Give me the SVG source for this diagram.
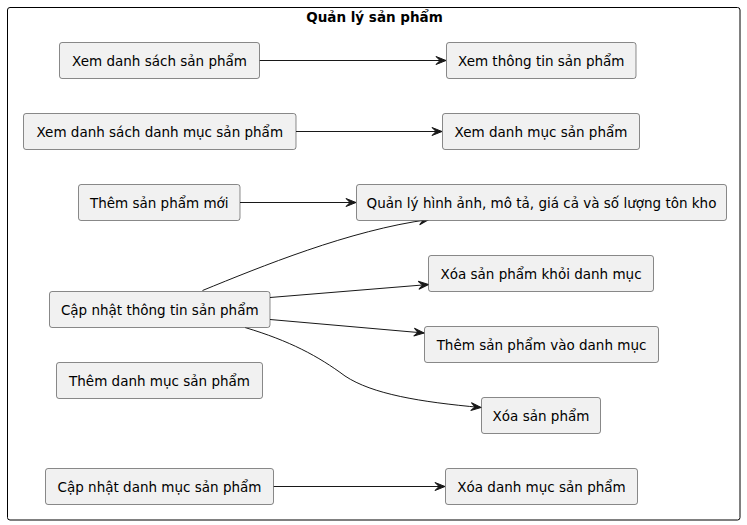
<svg xmlns="http://www.w3.org/2000/svg" width="747" height="525" viewBox="0 0 747 525">
<style>
.n rect{fill:#F1F1F1;stroke:#181818;stroke-width:0.5}
.n text{font-family:"DejaVu Sans",sans-serif;font-size:13.5px;fill:#000;text-anchor:middle}
.e path{fill:none;stroke:#181818;stroke-width:1;marker-end:url(#ah)}
.t{font-family:"DejaVu Sans",sans-serif;font-size:13.5px;font-weight:bold;text-anchor:middle}
</style>
<defs>
<marker id="ah" markerUnits="userSpaceOnUse" markerWidth="12" markerHeight="10" viewBox="-11 -5 12 10" refX="0" refY="0" orient="auto">
<path d="M0,0 L-10,-4 L-6,0 L-10,4 Z" fill="#181818" stroke="#181818" stroke-width="1"/>
</marker>
</defs>
<rect x="7.5" y="7.5" width="732.5" height="512.5" rx="2.5" fill="none" stroke="#000" stroke-width="1"/>
<text class="t" x="374.5" y="22">Quản lý sản phẩm</text>
<g class="e" id="connectors">
<path d="M259.5,60.5 L446,60.5"/>
<path d="M296,131.5 L442,131.5"/>
<path d="M240,202.5 L356,202.5"/>
<path d="M202.5,290.5 C260,267 350,230 429,219.5"/>
<path d="M270,297.5 L428.5,284.5"/>
<path d="M270,319.5 L424,333"/>
<path d="M245,327.5 C290,341 318,356 345,376 C372,394 420,402 481,407.5"/>
<path d="M273.5,486.5 L445,486.5"/>
</g>
<g class="n" id="n1"><rect x="59.5" y="42.5" width="200" height="36" rx="2.5"/><text x="159.5" y="65.5">Xem danh sách sản phẩm</text></g>
<g class="n" id="n2"><rect x="23.5" y="113.5" width="272.5" height="36" rx="2.5"/><text x="159.75" y="136.5">Xem danh sách danh mục sản phẩm</text></g>
<g class="n" id="n3"><rect x="446.5" y="42.5" width="189.5" height="36" rx="2.5"/><text x="541.25" y="65.5">Xem thông tin sản phẩm</text></g>
<g class="n" id="n4"><rect x="442.5" y="113.5" width="197" height="36" rx="2.5"/><text x="541" y="136.5">Xem danh mục sản phẩm</text></g>
<g class="n" id="n5"><rect x="78.5" y="184.5" width="161.5" height="36" rx="2.5"/><text x="159.25" y="207.5">Thêm sản phẩm mới</text></g>
<g class="n" id="n6"><rect x="356.5" y="184.5" width="370" height="36" rx="2.5"/><text x="541.5" y="207.5">Quản lý hình ảnh, mô tả, giá cả và số lượng tôn kho</text></g>
<g class="n" id="n7"><rect x="49.5" y="291.5" width="220.5" height="36" rx="2.5"/><text x="159.75" y="314.5">Cập nhật thông tin sản phẩm</text></g>
<g class="n" id="n8"><rect x="428.5" y="255.5" width="225" height="36" rx="2.5"/><text x="541" y="278.5">Xóa sản phẩm khỏi danh mục</text></g>
<g class="n" id="n9"><rect x="424.5" y="326.5" width="234" height="36" rx="2.5"/><text x="541.5" y="349.5">Thêm sản phẩm vào danh mục</text></g>
<g class="n" id="n10"><rect x="56.5" y="362.5" width="206" height="36" rx="2.5"/><text x="159.5" y="385.5">Thêm danh mục sản phẩm</text></g>
<g class="n" id="n11"><rect x="481.5" y="397.5" width="119" height="36" rx="2.5"/><text x="541" y="420.5">Xóa sản phẩm</text></g>
<g class="n" id="n12"><rect x="45.5" y="468.5" width="228" height="36" rx="2.5"/><text x="159.5" y="491.5">Cập nhật danh mục sản phẩm</text></g>
<g class="n" id="n13"><rect x="445.5" y="468.5" width="192" height="36" rx="2.5"/><text x="541.5" y="491.5">Xóa danh mục sản phẩm</text></g>
</svg>
